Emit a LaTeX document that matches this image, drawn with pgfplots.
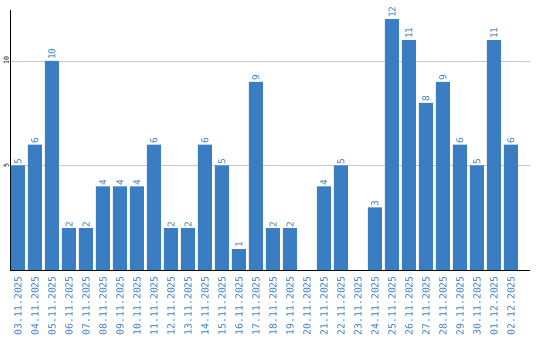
\documentclass[border=0pt]{standalone}
\usepackage{pgfplots}
\pgfplotsset{compat=1.18}
\usepackage{fontspec}
\setmainfont{DejaVu Sans Mono}
\definecolor{barblue}{HTML}{3A7DC2}
\definecolor{lblblue}{HTML}{3D7CC6}
\definecolor{gridgray}{HTML}{C8C8C8}
\begin{document}
\begin{tikzpicture}
\useasboundingbox (-10pt,-70pt) rectangle (530pt,270pt);
\begin{axis}[
  at={(0pt,0pt)}, anchor=south west,
  scale only axis, width=520pt, height=260pt,
  xmin=-0.47, xmax=30.12, ymin=0, ymax=12.44,
  axis x line=bottom, axis y line=left,
  axis line style={black, line width=0.8pt, -},
  ytick={5,10}, ymajorgrids, grid style={gridgray, line width=0.8pt},
  major tick length=0pt,
  xtick={0,...,29},
  xticklabels={03.11.2025,04.11.2025,05.11.2025,06.11.2025,07.11.2025,08.11.2025,09.11.2025,10.11.2025,11.11.2025,12.11.2025,13.11.2025,14.11.2025,15.11.2025,16.11.2025,17.11.2025,18.11.2025,19.11.2025,20.11.2025,21.11.2025,22.11.2025,23.11.2025,24.11.2025,25.11.2025,26.11.2025,27.11.2025,28.11.2025,29.11.2025,30.11.2025,01.12.2025,02.12.2025},
  x tick label style={rotate=90, anchor=east, text=lblblue, font=\fontsize{9.8}{10}\selectfont, inner sep=0pt, xshift=-6pt},
  y tick label style={rotate=90, anchor=south, text=black, font=\fontsize{6.5}{7}\selectfont, inner sep=1pt},
  /pgf/number format/assume math mode=true,
  nodes near coords,
  nodes near coords style={rotate=90, anchor=west, text=lblblue, font=\fontsize{9.5}{10}\selectfont, inner sep=1pt},
  clip=false,
]
\addplot[ybar, bar width=14pt, fill=barblue, draw=none] coordinates {
(0,5) (1,6) (2,10) (3,2) (4,2) (5,4) (6,4) (7,4) (8,6) (9,2)
(10,2) (11,6) (12,5) (13,1) (14,9) (15,2) (16,2) (18,4) (19,5)
(21,3) (22,12) (23,11) (24,8) (25,9) (26,6) (27,5) (28,11) (29,6)
};
\end{axis}
\end{tikzpicture}
\end{document}
